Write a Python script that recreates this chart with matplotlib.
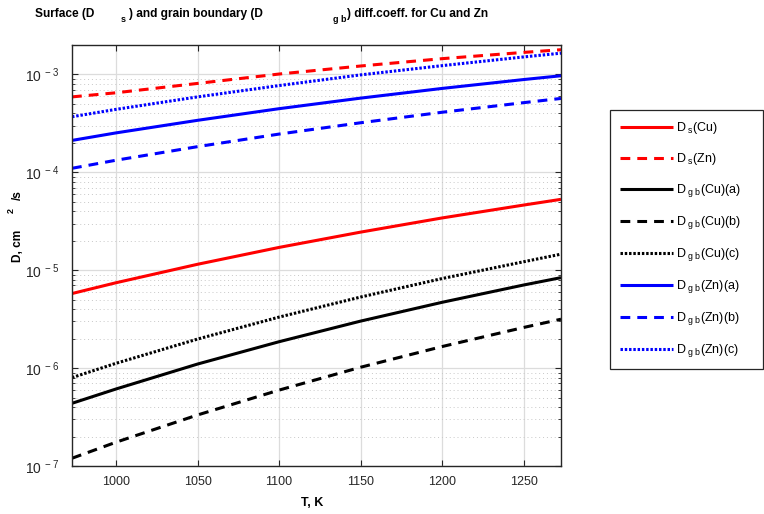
"""Surface and grain boundary diffusion coefficients for Cu and Zn."""
import math

import matplotlib
matplotlib.use("Agg")
import matplotlib.pyplot as plt
from matplotlib.ticker import LogLocator, FixedLocator, NullFormatter, FuncFormatter

plt.rcParams["font.family"] = ["Liberation Sans", "DejaVu Sans"]
plt.rcParams["mathtext.fontset"] = "custom"
plt.rcParams["mathtext.rm"] = "Liberation Sans"
plt.rcParams["mathtext.it"] = "Liberation Sans"
plt.rcParams["mathtext.bf"] = "Liberation Sans:bold"

# temperature, K
T = [973, 1000, 1050, 1100, 1150, 1200, 1250, 1273]

# diffusion coefficients, cm^2/s
ds_cu = [5.78e-6, 7.45e-6, 1.15e-5, 1.71e-5, 2.45e-5, 3.42e-5, 4.63e-5, 5.3e-5]
ds_zn = [5.9e-4, 6.5e-4, 8.1e-4, 1.01e-3, 1.22e-3, 1.45e-3, 1.68e-3, 1.79e-3]
dgb_cu_a = [4.37e-7, 6.12e-7, 1.1e-6, 1.86e-6, 3.02e-6, 4.7e-6, 7.06e-6, 8.4e-6]
dgb_cu_b = [1.2e-7, 1.75e-7, 3.32e-7, 5.96e-7, 1.02e-6, 1.66e-6, 2.6e-6, 3.16e-6]
dgb_cu_c = [8.0e-7, 1.12e-6, 1.98e-6, 3.32e-6, 5.32e-6, 8.22e-6, 1.22e-5, 1.46e-5]
dgb_zn_a = [2.12e-4, 2.53e-4, 3.4e-4, 4.47e-4, 5.73e-4, 7.2e-4, 8.87e-4, 9.7e-4]
dgb_zn_b = [1.1e-4, 1.33e-4, 1.83e-4, 2.46e-4, 3.21e-4, 4.11e-4, 5.15e-4, 5.69e-4]
dgb_zn_c = [3.7e-4, 4.4e-4, 5.9e-4, 7.7e-4, 9.9e-4, 1.23e-3, 1.51e-3, 1.65e-3]

labels = [
    r"D$_{\ \mathrm{s}}$(Cu)",
    r"D$_{\ \mathrm{s}}$(Zn)",
    r"D$_{\ \mathrm{g\ b}}$(Cu)(a)",
    r"D$_{\ \mathrm{g\ b}}$(Cu)(b)",
    r"D$_{\ \mathrm{g\ b}}$(Cu)(c)",
    r"D$_{\ \mathrm{g\ b}}$(Zn)(a)",
    r"D$_{\ \mathrm{g\ b}}$(Zn)(b)",
    r"D$_{\ \mathrm{g\ b}}$(Zn)(c)",
]
series = [ds_cu, ds_zn, dgb_cu_a, dgb_cu_b, dgb_cu_c, dgb_zn_a, dgb_zn_b, dgb_zn_c]
colors = ["#ff0000", "#ff0000", "#000000", "#000000", "#000000",
          "#0000ff", "#0000ff", "#0000ff"]
styles = ["solid", "dashed", "solid", "dashed", "dotted",
          "solid", "dashed", "dotted"]
DASHES = {"solid": None, "dashed": (3.2, 2.3), "dotted": (0.8, 0.6)}

W, H = 764, 514
fig = plt.figure(figsize=(W / 100, H / 100), dpi=100)
ax = fig.add_axes([72 / W, 1 - 466 / H, 489 / W, 421 / H])

handles = []
for y, lab, col, st in zip(series, labels, colors, styles):
    (ln,) = ax.plot(T, y, color=col, linewidth=2.2, label=lab,
                    solid_capstyle="butt", dash_capstyle="butt")
    if DASHES[st] is not None:
        ln.set_dashes(DASHES[st])
    handles.append(ln)

ax.set_yscale("log")
ax.set_xlim(973, 1273)
ax.set_ylim(1e-7, 2e-3)
ax.xaxis.set_major_locator(FixedLocator([1000, 1050, 1100, 1150, 1200, 1250]))
ax.yaxis.set_major_locator(LogLocator(base=10.0, numticks=10))
ax.yaxis.set_minor_locator(LogLocator(base=10.0, subs=range(2, 10), numticks=20))
ax.yaxis.set_minor_formatter(NullFormatter())
ax.yaxis.set_major_formatter(
    FuncFormatter(lambda v, p: r"$\mathregular{10^{\ %d}}$" % round(math.log10(v)))
)

ax.grid(True, which="major", axis="both", color="#dcdcdc", linewidth=0.9, linestyle="-")
ax.grid(True, which="minor", axis="y", color="#c8c8c8", linewidth=0.7, linestyle=(0, (1, 3)))
ax.set_axisbelow(True)

for sp in ax.spines.values():
    sp.set_color("#262626")
    sp.set_linewidth(1.0)
ax.tick_params(which="both", direction="in", top=True, right=True,
               colors="#262626", labelcolor="#262626", labelsize=9, pad=7)
ax.tick_params(axis="y", labelsize=10, pad=9)
ax.tick_params(which="major", length=4, width=0.8)
ax.tick_params(which="minor", length=2.5, width=0.6)


def ftext(x, y, s, **kw):
    # x, y in pixels from the top-left corner
    fig.text(x / W, 1 - y / H, s, **kw)


tb = dict(fontsize=8.6, fontweight="bold", color="black", va="baseline", ha="left")
ftext(35, 17, "Surface (D", **tb)
ftext(121, 22, "s", fontsize=6.5, fontweight="bold", va="baseline", ha="left")
ftext(129, 17, ") and grain boundary (D", **tb)
ftext(333, 22, "g b", fontsize=6.5, fontweight="bold", va="baseline", ha="left")
ftext(347, 17, ") diff.coeff. for Cu and Zn", **tb)

# axis labels
ftext(312, 503, "T, K", fontsize=9, fontweight="bold", ha="center", va="center")
ftext(18, 262, "D, cm", fontsize=8.6, fontweight="bold", rotation=90, ha="center", va="bottom")
ftext(11, 213, "2", fontsize=6.5, fontweight="bold", rotation=90, ha="center", va="bottom")
ftext(18, 200, "/s", fontsize=8.6, fontweight="bold", rotation=90, ha="center", va="bottom")

leg = ax.legend(handles=handles, loc="upper left",
                bbox_to_anchor=(610 / W, 1 - 368 / H, 153 / W, 258 / H),
                bbox_transform=fig.transFigure, mode="expand",
                borderaxespad=0, fancybox=False, framealpha=1, edgecolor="#262626",
                fontsize=9, handlelength=4.2, handletextpad=0.25, labelspacing=1.2,
                borderpad=0.8)
leg.get_frame().set_linewidth(0.9)

fig.savefig("out.png", dpi=100)
